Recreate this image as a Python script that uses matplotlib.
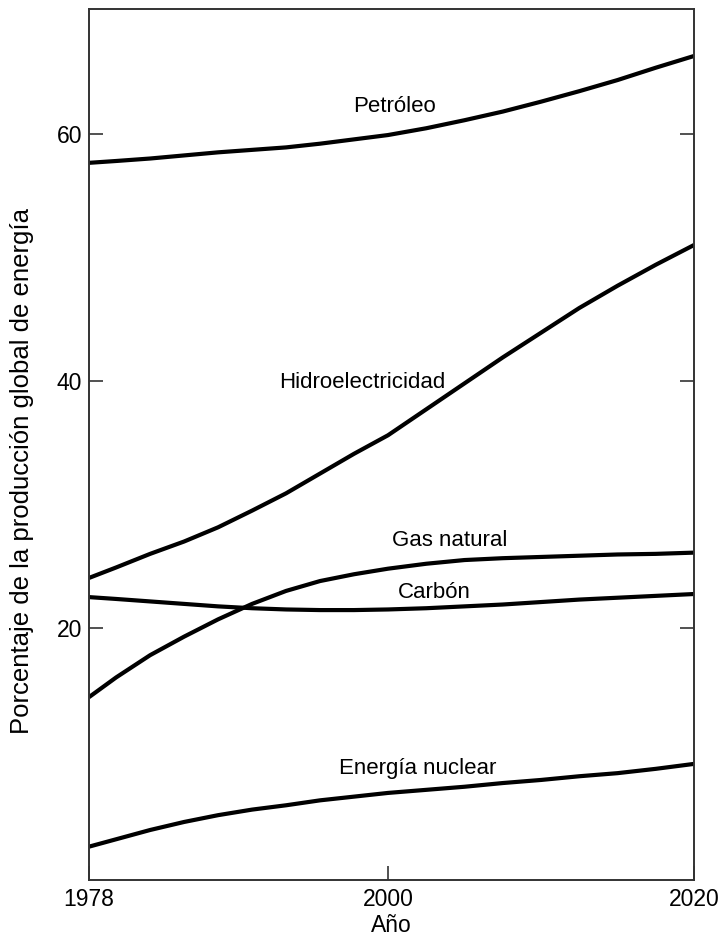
import numpy as np
import matplotlib
matplotlib.use("Agg")
import matplotlib.pyplot as plt

years = [1978, 1980, 1982.5, 1985, 1987.5, 1990, 1992.5, 1995, 1997.5,
         2000, 2002.5, 2005, 2007.5, 2010, 2012.5, 2015, 2017.5, 2020]
petroleo = [57.65, 57.8, 58.0, 58.25, 58.5, 58.7, 58.9, 59.2, 59.55,
            59.9, 60.45, 61.1, 61.8, 62.6, 63.45, 64.35, 65.35, 66.3]
hidro = [24.05, 24.9, 26.0, 27.0, 28.15, 29.5, 30.9, 32.5, 34.1,
         35.6, 37.7, 39.8, 41.9, 43.9, 45.9, 47.7, 49.4, 51.0]
gas = [14.4, 16.0, 17.8, 19.3, 20.7, 21.95, 23.0, 23.8, 24.35,
       24.8, 25.2, 25.5, 25.65, 25.75, 25.85, 25.95, 26.0, 26.1]
carbon = [22.5, 22.35, 22.15, 21.95, 21.75, 21.6, 21.5, 21.45, 21.45,
          21.5, 21.6, 21.75, 21.9, 22.1, 22.3, 22.45, 22.6, 22.75]
nuclear = [2.3, 2.9, 3.65, 4.3, 4.85, 5.3, 5.65, 6.05, 6.35,
           6.65, 6.9, 7.15, 7.45, 7.7, 8.0, 8.25, 8.6, 9.0]

labels = [
    ("Petróleo", 2000.4, 62.2),
    ("Hidroelectricidad", 1998.1, 39.9),
    ("Gas natural", 2004.0, 27.1),
    ("Carbón", 2003.0, 22.9),
    ("Energía nuclear", 2001.95, 8.66),
]

# the original's time axis is not quite linear: 1978-2000 is narrower than 2000-2020
def fwd(x):
    x = np.asarray(x, dtype=float)
    return np.where(x <= 2000, (x - 1978) * 299 / 22, 299 + (x - 2000) * 306 / 20)

def inv(u):
    u = np.asarray(u, dtype=float)
    return np.where(u <= 299, 1978 + u * 22 / 299, 2000 + (u - 299) * 20 / 306)

plt.rcParams['font.family'] = ['Liberation Sans', 'DejaVu Sans']

fig = plt.figure(figsize=(7.21, 9.40), dpi=100)
ax = fig.add_axes([0.1234, 0.0638, 0.8392, 0.9266])
ax.set_xscale('function', functions=(fwd, inv))

for series in [petroleo, hidro, gas, carbon, nuclear]:
    ax.plot(years, series, color='black', linewidth=3.0, solid_capstyle='butt')

for text, x, y in labels:
    ax.text(x, y, text, fontsize=16, ha='center', va='center', color='black')

ax.set_xlim(1978, 2020)
ax.set_ylim(-0.4, 70.1)
ax.set_xticks([1978, 2000, 2020])
ax.set_xticklabels(["1978", "2000", "2020"])
ax.set_yticks([20, 40, 60])
ax.tick_params(axis='both', direction='in', length=10, width=1.2, labelsize=16.5,
               color='#333333', labelcolor='black')
ax.tick_params(axis='y', right=True, pad=5)
ax.tick_params(axis='x', pad=6)
for spine in ax.spines.values():
    spine.set_color('#333333')
    spine.set_linewidth(1.4)

ax.set_xlabel("Año", fontsize=16.5, color='black', labelpad=2)
ax.set_ylabel("Porcentaje de la producción global de energía", fontsize=18.5,
              color='black')
ax.yaxis.set_label_coords(-0.091, 0.47)

plt.savefig("out.png", dpi=100)
plt.close()
